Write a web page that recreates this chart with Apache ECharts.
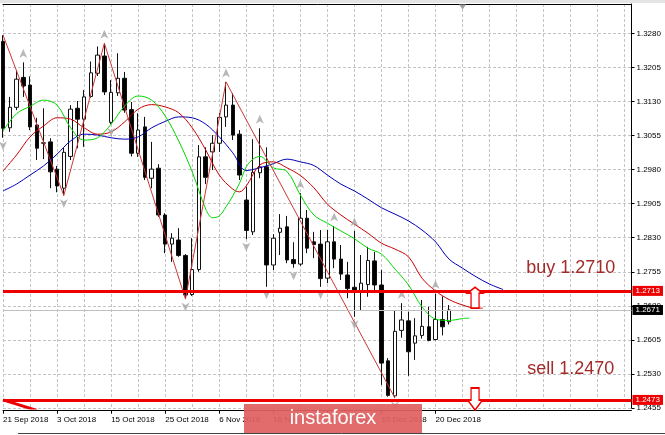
<!DOCTYPE html>
<html><head><meta charset="utf-8">
<script src="https://cdn.jsdelivr.net/npm/echarts@6/dist/echarts.min.js"></script>
<style>html,body{margin:0;padding:0;background:#fff}#main{width:665px;height:435px}</style>
</head><body><div id="main"></div>
<script>
// ---------- DATA ----------
const dates = ['21 Sep 2018','24 Sep 2018','25 Sep 2018','26 Sep 2018','27 Sep 2018','28 Sep 2018','1 Oct 2018','2 Oct 2018','3 Oct 2018','4 Oct 2018','5 Oct 2018','8 Oct 2018','9 Oct 2018','10 Oct 2018','11 Oct 2018','12 Oct 2018','15 Oct 2018','16 Oct 2018','17 Oct 2018','18 Oct 2018','19 Oct 2018','22 Oct 2018','23 Oct 2018','24 Oct 2018','25 Oct 2018','26 Oct 2018','29 Oct 2018','30 Oct 2018','31 Oct 2018','1 Nov 2018','2 Nov 2018','5 Nov 2018','6 Nov 2018','7 Nov 2018','8 Nov 2018','9 Nov 2018','12 Nov 2018','13 Nov 2018','14 Nov 2018','15 Nov 2018','16 Nov 2018','19 Nov 2018','20 Nov 2018','21 Nov 2018','22 Nov 2018','23 Nov 2018','26 Nov 2018','27 Nov 2018','28 Nov 2018','29 Nov 2018','30 Nov 2018','3 Dec 2018','4 Dec 2018','5 Dec 2018','6 Dec 2018','7 Dec 2018','10 Dec 2018','11 Dec 2018','12 Dec 2018','13 Dec 2018','14 Dec 2018','17 Dec 2018','18 Dec 2018','19 Dec 2018','20 Dec 2018','21 Dec 2018','24 Dec 2018'];
const open  = [1.3262,1.3072,1.3117,1.3183,1.3166,1.3078,1.3038,1.3041,1.2981,1.2939,1.3009,1.3115,1.3091,1.3141,1.3192,1.3230,1.3084,1.3149,1.3181,1.3112,1.3016,1.3074,1.2961,1.2983,1.2880,1.2816,1.2825,1.2791,1.2705,1.2760,1.3008,1.3019,1.3038,1.3096,1.3122,1.3058,1.2913,1.2843,1.2973,1.2986,1.2770,1.2842,1.2854,1.2782,1.2772,1.2873,1.2821,1.2816,1.2741,1.2821,1.2783,1.2748,1.2721,1.2711,1.2727,1.2779,1.2726,1.2559,1.2482,1.2626,1.2647,1.2598,1.2615,1.2634,1.2606,1.2650,1.2645];
const close = [1.3071,1.3117,1.3179,1.3164,1.3074,1.3027,1.3039,1.2975,1.2944,1.3018,1.3113,1.3091,1.3140,1.3193,1.3232,1.3151,1.3150,1.3181,1.3111,1.3016,1.3067,1.2963,1.2981,1.2880,1.2816,1.2829,1.2791,1.2704,1.2760,1.3008,1.2963,1.3038,1.3095,1.3122,1.3056,1.2968,1.2846,1.2974,1.2986,1.2770,1.2829,1.2851,1.2781,1.2773,1.2873,1.2807,1.2815,1.2740,1.2821,1.2783,1.2750,1.2718,1.2714,1.2730,1.2780,1.2726,1.2554,1.2483,1.2624,1.2649,1.2579,1.2614,1.2635,1.2604,1.2650,1.2634,1.2671];
const low   = [1.3050,1.3063,1.3111,1.3140,1.3067,1.3001,1.3003,1.2939,1.2930,1.2923,1.3001,1.3027,1.3030,1.3138,1.3186,1.3144,1.3080,1.3142,1.3105,1.3009,1.3008,1.2957,1.2939,1.2876,1.2796,1.2777,1.2788,1.2695,1.2702,1.2755,1.2948,1.2979,1.3019,1.3074,1.3045,1.2957,1.2827,1.2836,1.2961,1.2722,1.2759,1.2792,1.2774,1.2764,1.2768,1.2796,1.2785,1.2722,1.2730,1.2763,1.2737,1.2697,1.2656,1.2671,1.2700,1.2711,1.2506,1.2480,1.2477,1.2610,1.2526,1.2561,1.2608,1.2602,1.2604,1.2615,1.2639];
const high  = [1.3276,1.3140,1.3198,1.3216,1.3185,1.3094,1.3115,1.3049,1.2988,1.3028,1.3122,1.3131,1.3155,1.3218,1.3251,1.3258,1.3177,1.3236,1.3195,1.3129,1.3104,1.3096,1.3041,1.2992,1.2884,1.2840,1.2851,1.2794,1.2829,1.3034,1.3029,1.3056,1.3105,1.3173,1.3148,1.3067,1.2942,1.3047,1.3071,1.3029,1.2838,1.2882,1.2878,1.2820,1.2928,1.2891,1.2843,1.2847,1.2847,1.2856,1.2814,1.2777,1.2845,1.2792,1.2810,1.2799,1.2759,1.2565,1.2671,1.2686,1.2667,1.2653,1.2693,1.2678,1.2707,1.2701,1.2682];
const futureBars = 27;

// Alligator lines (bar index, price)
const lips  = [[0,1.3065],[2,1.3103],[4,1.3119],[6,1.3133],[8,1.3122],[10,1.3072],[12,1.3045],[14,1.3050],[16,1.3080],[18,1.3120],[20,1.3142],[22,1.3133],[24,1.3098],[26,1.3043],[28,1.2975],[30,1.2893],[31,1.2874],[32,1.2878],[33,1.2898],[34,1.2922],[35,1.2950],[36,1.2986],[37,1.3003],[38,1.3009],[40,1.2984],[42,1.2976],[44,1.2924],[46,1.2880],[48,1.2862],[50,1.2845],[52,1.2828],[54,1.2807],[56,1.2794],[58,1.2761],[60,1.2726],[62,1.2678],[64,1.2651],[66,1.2648],[68,1.2652],[69,1.2653]];
const teeth = [[0,1.2977],[2,1.3012],[4,1.3052],[6,1.3076],[8,1.3094],[10,1.3091],[12,1.3072],[14,1.3058],[16,1.3063],[18,1.3085],[20,1.3113],[22,1.3123],[24,1.3118],[26,1.3105],[28,1.3072],[30,1.3023],[32,1.2968],[34,1.2937],[35,1.2931],[36,1.2944],[38,1.2990],[40,1.2997],[42,1.2984],[44,1.2967],[46,1.2940],[48,1.2904],[50,1.2880],[52,1.2860],[54,1.2840],[56,1.2818],[58,1.2805],[60,1.2788],[62,1.2741],[64,1.2713],[66,1.2694],[68,1.2682],[70,1.2675],[71,1.2675]];
const jaw   = [[0,1.2933],[2,1.2948],[4,1.2968],[6,1.2988],[8,1.3014],[10,1.3043],[12,1.3058],[14,1.3056],[16,1.3050],[18,1.3047],[20,1.3052],[22,1.3072],[24,1.3086],[26,1.3096],[28,1.3094],[30,1.3080],[32,1.3052],[34,1.3017],[36,1.2978],[38,1.2984],[40,1.2993],[42,1.3003],[44,1.2997],[46,1.2989],[48,1.2968],[50,1.2948],[52,1.2933],[54,1.2915],[56,1.2896],[58,1.2882],[60,1.2867],[62,1.2847],[64,1.2821],[66,1.2783],[68,1.2763],[70,1.2744],[72,1.2728],[74,1.2716]];

const zigzagIdx  = [0,9,15,27,33,58];
const zigzagType = ['H','L','H','L','H','L'];
const fractalUp   = [3,15,33,38,44,49,52,59,64];
const fractalDown = [0,9,16,27,36,39,43,47,52,58];

const yTickLabels = ['1.2455','1.2530','1.2605','1.2680','1.2755','1.2830','1.2905','1.2980','1.3055','1.3130','1.3205','1.3280'];
const yTop = 1.33445;

const buyLevel = 1.2713, sellLevel = 1.2473, lastPrice = 1.2671;
const buyText = 'buy 1.2710', sellText = 'sell 1.2470';
const textPos = {buy:[84, 1.2763], sell:[84, 1.2541]};
const arrowPos = {up:[70, 1.2698], down:[70, 1.2475]};
const trendLine = [[0, 1.2473], [5, 1.2450]];
const shiftMarkIdx = 68;

// ---------- CHART ----------
const FONT = '"Liberation Sans", Arial, sans-serif';
const cats = dates.concat(Array.from({length: futureBars}, (_, k) => 'F' + (k + 1)));
const candles = dates.map((d, i) => [open[i], close[i], low[i], high[i]]);
const zz = zigzagIdx.map((i, k) => [i, zigzagType[k] === 'H' ? high[i] : low[i]]);
const yMin = parseFloat(yTickLabels[0]);
const yStep = Math.round((parseFloat(yTickLabels[1]) - yMin) * 1e4) / 1e4;
const RED = '#ee0000';
const dash = {color: '#c4c4c4', width: 1, type: [3, 2]};

const chart = echarts.init(document.getElementById('main'), null, {renderer: 'canvas'});
chart.setOption({
  animation: false,
  backgroundColor: '#ffffff',
  grid: {left: 2, right: 33.5, top: 4, bottom: 26.9, containLabel: false},
  xAxis: [{
    type: 'category', data: cats, boundaryGap: false, position: 'bottom', offset: 2.6,
    axisLine: {show: true, lineStyle: {color: '#000', width: 1}},
    axisTick: {show: true, length: 3, lineStyle: {color: '#000'}, interval: (i) => i % 8 === 0 && i < dates.length},
    axisLabel: {show: true, interval: (i) => i % 8 === 0 && i < dates.length, align: 'left', margin: 5,
      fontSize: 8, fontFamily: FONT, color: '#000'},
    splitLine: {show: true, interval: (i) => i % 4 === 0, lineStyle: dash}
  }, {
    type: 'category', data: cats, boundaryGap: false, position: 'top',
    axisLine: {show: true, lineStyle: {color: '#000', width: 1}},
    axisTick: {show: false}, axisLabel: {show: false}, splitLine: {show: false}
  }],
  yAxis: {
    type: 'value', position: 'right', min: yMin, max: yTop, interval: yStep, scale: true,
    axisLine: {show: true, lineStyle: {color: '#000', width: 1}},
    axisTick: {show: true, length: 3, lineStyle: {color: '#000'}},
    axisLabel: {show: true, margin: 5, fontSize: 8, fontFamily: FONT, color: '#000',
      showMaxLabel: false, showMinLabel: true,
      formatter: (v) => { const s = v.toFixed(4); return yTickLabels.indexOf(s) >= 0 ? s : ''; }},
    splitLine: {show: true, lineStyle: dash}
  },
  series: [
    {type: 'candlestick', data: candles, barWidth: 4, clip: false, z: 2, silent: true,
     itemStyle: {color: '#ffffff', color0: '#000000', borderColor: '#111111', borderColor0: '#111111', borderWidth: 1}},
    {type: 'line', data: jaw, smooth: 0.35, symbol: 'none', z: 3, silent: true, lineStyle: {color: '#0000b4', width: 1}},
    {type: 'line', data: teeth, smooth: 0.35, symbol: 'none', z: 3, silent: true, lineStyle: {color: '#c80000', width: 1}},
    {type: 'line', data: lips, smooth: 0.35, symbol: 'none', z: 3, silent: true, lineStyle: {color: '#00d800', width: 1}},
    {type: 'line', data: zz, symbol: 'none', z: 3, silent: true, lineStyle: {color: '#cc3838', width: 1}},
    {type: 'scatter', data: fractalUp.map(i => [i, high[i]]), z: 4, silent: true,
     symbol: 'path://M4,0 L8,9 L4,6.5 L0,9 Z', symbolSize: [8, 9], symbolOffset: [0, -9],
     itemStyle: {color: '#a6a6a6'}},
    {type: 'scatter', data: fractalDown.map(i => [i, low[i]]), z: 4, silent: true,
     symbol: 'path://M0,0 L4,2.5 L8,0 L4,9 Z', symbolSize: [8, 9], symbolOffset: [0, 8],
     itemStyle: {color: '#a6a6a6'}},
    {type: 'line', data: trendLine, symbol: 'none', z: 5, silent: true, lineStyle: {color: RED, width: 3}},
    {type: 'line', data: [], z: 6, silent: true,
     markLine: {silent: true, animation: false, symbol: ['none', 'none'], precision: 4,
       label: {show: true, position: 'end', distance: 1, color: '#fff', fontSize: 8, fontFamily: FONT,
               padding: [1, 3, 0, 3], lineHeight: 9, formatter: (p) => Number(p.value).toFixed(4)},
       data: [
         {yAxis: lastPrice, lineStyle: {color: '#c0c0c0', width: 1, type: 'solid'}, label: {backgroundColor: '#000'}},
         {yAxis: buyLevel, lineStyle: {color: RED, width: 3, type: 'solid'}, label: {backgroundColor: RED}},
         {yAxis: sellLevel, lineStyle: {color: RED, width: 3, type: 'solid'}, label: {backgroundColor: RED}}
       ]},
     markPoint: {silent: true, animation: false, data: [
       {coord: textPos.buy, symbol: 'rect', symbolSize: 1, itemStyle: {color: 'rgba(0,0,0,0)'},
        label: {show: true, position: 'inside', formatter: buyText, fontSize: 18, fontFamily: FONT, color: '#a52a2a'}},
       {coord: textPos.sell, symbol: 'rect', symbolSize: 1, itemStyle: {color: 'rgba(0,0,0,0)'},
        label: {show: true, position: 'inside', formatter: sellText, fontSize: 18, fontFamily: FONT, color: '#a52a2a'}},
       {coord: arrowPos.up, symbol: 'path://M7.5,0 L15,6 L11.5,6 L11.5,21 L3.5,21 L3.5,6 L0,6 Z',
        symbolSize: [15, 21], symbolOffset: [-1, 0], itemStyle: {color: '#fff', borderColor: RED, borderWidth: 1.5},
        label: {show: false}},
       {coord: arrowPos.down, symbol: 'path://M3.5,0 L11.5,0 L11.5,12 L15,12 L7.5,22 L0,12 L3.5,12 Z',
        symbolSize: [15, 22], symbolOffset: [-1, 0], itemStyle: {color: '#fff', borderColor: RED, borderWidth: 1.5},
        label: {show: false}},
       {coord: [shiftMarkIdx, yTop], symbol: 'path://M0,0 L8,0 L4,5 Z', symbolSize: [7, 5], symbolOffset: [0, 3],
        itemStyle: {color: '#a0a0a0'}, label: {show: false}}
     ]}}
  ],
  graphic: [
    {type: 'rect', shape: {x: 0, y: 0, width: 665, height: 3}, style: {fill: '#e4e4e4'}, z: 100, silent: true},
    {type: 'rect', shape: {x: 244, y: 404, width: 178, height: 29}, style: {fill: 'rgba(224,96,96,0.93)'}, z: 100, silent: true},
    {type: 'text', x: 333, y: 418.5, z: 101, silent: true,
     style: {text: 'instaforex', fill: '#ffffff', fontSize: 20, fontFamily: FONT, align: 'center', verticalAlign: 'middle'}},
    {type: 'line', shape: {x1: 18, y1: 433.5, x2: 665, y2: 433.5}, style: {stroke: '#444', lineWidth: 1}, z: 100, silent: true}
  ]
});
</script></body></html>
